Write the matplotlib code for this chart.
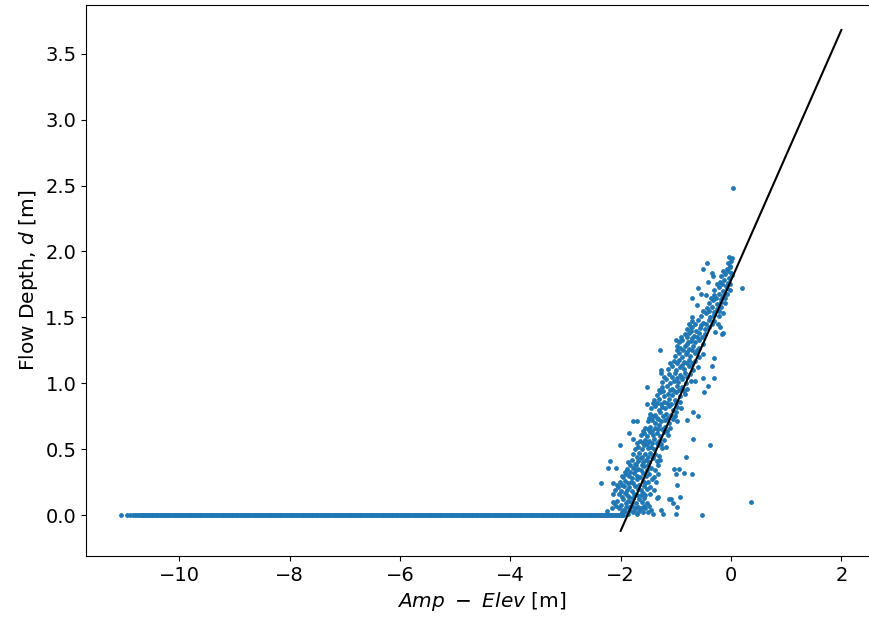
import matplotlib
matplotlib.use("Agg")
import matplotlib.pyplot as plt
import numpy as np

# points sitting on d = 0 (dry cells), x = Amp - Elev
zero_x = [
    -11.05, -10.94, -10.89, -10.84, -10.80, -10.76,
    -10.73, -10.70, -10.68, -10.65, -10.63, -10.60, -10.58, -10.55, -10.53, -10.50,
    -10.48, -10.45, -10.43, -10.40, -10.38, -10.35, -10.33, -10.30, -10.28, -10.25,
    -10.23, -10.20, -10.18, -10.15, -10.13, -10.10, -10.08, -10.05, -10.03, -10.00,
    -9.98, -9.95, -9.93, -9.90, -9.88, -9.85, -9.83, -9.80, -9.78, -9.75,
    -9.73, -9.70, -9.68, -9.65, -9.63, -9.60, -9.58, -9.55, -9.53, -9.50,
    -9.48, -9.45, -9.43, -9.40, -9.38, -9.35, -9.33, -9.30, -9.28, -9.25,
    -9.23, -9.20, -9.18, -9.15, -9.13, -9.10, -9.08, -9.05, -9.03, -9.00,
    -8.98, -8.95, -8.93, -8.90, -8.88, -8.85, -8.83, -8.80, -8.78, -8.75,
    -8.73, -8.70, -8.68, -8.65, -8.63, -8.60, -8.58, -8.55, -8.53, -8.50,
    -8.48, -8.45, -8.43, -8.40, -8.38, -8.35, -8.33, -8.30, -8.28, -8.25,
    -8.23, -8.20, -8.18, -8.15, -8.13, -8.10, -8.08, -8.05, -8.03, -8.00,
    -7.98, -7.95, -7.93, -7.90, -7.88, -7.85, -7.83, -7.80, -7.78, -7.75,
    -7.73, -7.70, -7.68, -7.65, -7.63, -7.60, -7.58, -7.55, -7.53, -7.50,
    -7.48, -7.45, -7.43, -7.40, -7.38, -7.35, -7.33, -7.30, -7.28, -7.25,
    -7.23, -7.20, -7.18, -7.15, -7.13, -7.10, -7.08, -7.05, -7.03, -7.00,
    -6.98, -6.95, -6.93, -6.90, -6.88, -6.85, -6.83, -6.80, -6.78, -6.75,
    -6.73, -6.70, -6.68, -6.65, -6.63, -6.60, -6.58, -6.55, -6.53, -6.50,
    -6.48, -6.45, -6.43, -6.40, -6.38, -6.35, -6.33, -6.30, -6.28, -6.25,
    -6.23, -6.20, -6.18, -6.15, -6.13, -6.10, -6.08, -6.05, -6.03, -6.00,
    -5.98, -5.95, -5.93, -5.90, -5.88, -5.85, -5.83, -5.80, -5.78, -5.75,
    -5.73, -5.70, -5.68, -5.65, -5.63, -5.60, -5.58, -5.55, -5.53, -5.50,
    -5.48, -5.45, -5.43, -5.40, -5.38, -5.35, -5.33, -5.30, -5.28, -5.25,
    -5.23, -5.20, -5.18, -5.15, -5.13, -5.10, -5.08, -5.05, -5.03, -5.00,
    -4.98, -4.95, -4.93, -4.90, -4.88, -4.85, -4.83, -4.80, -4.78, -4.75,
    -4.73, -4.70, -4.68, -4.65, -4.63, -4.60, -4.58, -4.55, -4.53, -4.50,
    -4.48, -4.45, -4.43, -4.40, -4.38, -4.35, -4.33, -4.30, -4.28, -4.25,
    -4.23, -4.20, -4.18, -4.15, -4.13, -4.10, -4.08, -4.05, -4.03, -4.00,
    -3.98, -3.95, -3.93, -3.90, -3.88, -3.85, -3.83, -3.80, -3.78, -3.75,
    -3.73, -3.70, -3.68, -3.65, -3.63, -3.60, -3.58, -3.55, -3.53, -3.50,
    -3.48, -3.45, -3.43, -3.40, -3.38, -3.35, -3.33, -3.30, -3.28, -3.25,
    -3.23, -3.20, -3.18, -3.15, -3.13, -3.10, -3.08, -3.05, -3.03, -3.00,
    -2.98, -2.95, -2.93, -2.90, -2.88, -2.85, -2.83, -2.80, -2.78, -2.75,
    -2.73, -2.70, -2.68, -2.65, -2.63, -2.60, -2.58, -2.55, -2.53, -2.50,
    -2.48, -2.45, -2.43, -2.40, -2.38, -2.35, -2.33, -2.30, -2.28, -2.25,
    -2.23, -2.20, -2.18, -2.15, -2.13, -2.10, -2.08, -2.05, -2.03, -2.00,
    -1.98, -1.95,
]
zero_y = [0.0] * len(zero_x)

# wet cells: (Amp - Elev, flow depth)
cloud = [
    # d ~ 0.0 - 0.45 (dense toe)
    (-1.98, 0.02), (-1.92, 0.03), (-1.87, 0.01), (-1.83, 0.04), (-1.78, 0.02), (-1.74, 0.05),
    (-1.70, 0.01), (-1.66, 0.03), (-1.60, 0.02), (-1.55, 0.05), (-1.50, 0.02), (-1.45, 0.04),
    (-2.03, 0.05), (-1.90, 0.06), (-1.80, 0.07), (-1.68, 0.06), (-2.25, 0.03), (-2.15, 0.05),
    (-1.95, 0.04), (-1.85, 0.06), (-1.76, 0.03), (-1.63, 0.05), (-1.58, 0.07), (-1.48, 0.07),
    (-2.08, 0.07),
    (-2.12, 0.09), (-2.06, 0.11), (-2.00, 0.08), (-1.95, 0.12), (-1.91, 0.09), (-1.86, 0.11),
    (-1.81, 0.10), (-1.77, 0.13), (-1.72, 0.09), (-1.67, 0.12), (-1.62, 0.10), (-1.57, 0.13),
    (-1.52, 0.09), (-1.98, 0.14), (-1.88, 0.15), (-1.75, 0.16), (-1.64, 0.15),
    (-2.03, 0.16), (-1.93, 0.17), (-1.85, 0.14), (-1.70, 0.15), (-1.60, 0.17), (-1.55, 0.15),
    (-1.47, 0.16),
    (-2.10, 0.19), (-2.04, 0.21), (-1.99, 0.18), (-1.94, 0.22), (-1.89, 0.19), (-1.84, 0.21),
    (-1.79, 0.18), (-1.74, 0.22), (-1.69, 0.20), (-1.63, 0.19), (-1.58, 0.22), (-1.52, 0.20),
    (-1.46, 0.21), (-1.40, 0.19), (-2.02, 0.25), (-1.92, 0.26), (-1.82, 0.25), (-1.71, 0.27),
    (-1.60, 0.26), (-1.50, 0.25),
    (-2.07, 0.23), (-1.97, 0.23), (-1.87, 0.24), (-1.77, 0.24), (-1.66, 0.23), (-1.55, 0.24),
    (-1.44, 0.27), (-1.36, 0.25),
    (-1.96, 0.29), (-1.90, 0.31), (-1.85, 0.30), (-1.80, 0.28), (-1.75, 0.32), (-1.70, 0.30),
    (-1.65, 0.29), (-1.60, 0.32), (-1.54, 0.30), (-1.48, 0.31), (-1.40, 0.29), (-1.33, 0.31),
    (-1.88, 0.35), (-1.78, 0.36), (-1.68, 0.35), (-1.58, 0.37), (-1.45, 0.36),
    (-1.93, 0.33), (-1.83, 0.33), (-1.73, 0.34), (-1.63, 0.34), (-1.52, 0.34), (-1.38, 0.34),
    (-1.83, 0.38), (-1.72, 0.38), (-1.62, 0.38), (-1.51, 0.38), (-1.32, 0.38),
    (-1.86, 0.40), (-1.80, 0.42), (-1.74, 0.39), (-1.69, 0.41), (-1.64, 0.43), (-1.59, 0.40),
    (-1.54, 0.42), (-1.48, 0.40), (-1.42, 0.43), (-1.35, 0.41), (-1.28, 0.42),
    (-1.77, 0.46), (-1.66, 0.47), (-1.56, 0.46), (-1.46, 0.47), (-1.38, 0.46),
    (-1.71, 0.44), (-1.61, 0.44), (-1.51, 0.44), (-1.41, 0.45), (-1.31, 0.45),
    # d ~ 0.5 - 1.45 (main band)
    (-1.74, 0.50), (-1.68, 0.52), (-1.62, 0.50), (-1.57, 0.53), (-1.51, 0.51), (-1.45, 0.52),
    (-1.39, 0.50), (-1.32, 0.53), (-1.25, 0.51), (-1.18, 0.52), (-1.65, 0.56), (-1.55, 0.57),
    (-1.48, 0.56), (-1.40, 0.58), (-1.30, 0.56), (-1.22, 0.57),
    (-1.71, 0.55), (-1.60, 0.55), (-1.53, 0.54), (-1.43, 0.55), (-1.35, 0.55), (-1.27, 0.54),
    (-1.64, 0.61), (-1.58, 0.62), (-1.52, 0.60), (-1.46, 0.63), (-1.41, 0.61), (-1.35, 0.62),
    (-1.29, 0.60), (-1.22, 0.63), (-1.14, 0.61), (-1.55, 0.66), (-1.47, 0.67), (-1.38, 0.66),
    (-1.30, 0.68), (-1.20, 0.67), (-1.10, 0.66),
    (-1.60, 0.64), (-1.50, 0.65), (-1.43, 0.64), (-1.33, 0.65), (-1.25, 0.65), (-1.16, 0.64),
    (-1.50, 0.71), (-1.44, 0.72), (-1.38, 0.70), (-1.32, 0.73), (-1.26, 0.71), (-1.20, 0.72),
    (-1.13, 0.70), (-1.05, 0.73), (-0.97, 0.71), (-1.46, 0.77), (-1.37, 0.76), (-1.28, 0.78),
    (-1.18, 0.77), (-1.08, 0.76), (-1.00, 0.78),
    (-1.48, 0.74), (-1.41, 0.75), (-1.34, 0.74), (-1.23, 0.75), (-1.15, 0.74), (-1.02, 0.75),
    (-1.45, 0.81), (-1.38, 0.83), (-1.31, 0.80), (-1.25, 0.82), (-1.19, 0.81), (-1.12, 0.83),
    (-1.05, 0.80), (-0.97, 0.82), (-0.90, 0.81), (-1.40, 0.87), (-1.30, 0.88), (-1.21, 0.86),
    (-1.12, 0.88), (-1.02, 0.87), (-0.93, 0.86),
    (-1.42, 0.85), (-1.34, 0.85), (-1.27, 0.84), (-1.16, 0.85), (-1.08, 0.84), (-0.99, 0.85),
    (-1.35, 0.91), (-1.28, 0.93), (-1.21, 0.90), (-1.14, 0.92), (-1.07, 0.91), (-1.00, 0.93),
    (-0.92, 0.90), (-0.84, 0.92), (-1.25, 0.97), (-1.16, 0.98), (-1.07, 0.96), (-0.98, 0.98),
    (-0.88, 0.97), (-0.80, 0.96),
    (-1.31, 0.95), (-1.24, 0.94), (-1.11, 0.95), (-1.03, 0.94), (-0.94, 0.95), (-0.85, 0.94),
    (-1.25, 1.01), (-1.17, 1.03), (-1.10, 1.00), (-1.03, 1.02), (-0.96, 1.01), (-0.89, 1.03),
    (-0.81, 1.00), (-0.73, 1.02), (-1.12, 1.07), (-1.02, 1.08), (-0.93, 1.06), (-0.84, 1.08),
    (-0.75, 1.07),
    (-1.21, 1.05), (-1.07, 1.05), (-0.98, 1.04), (-0.89, 1.05), (-0.79, 1.05),
    (-1.15, 1.11), (-1.07, 1.13), (-0.99, 1.10), (-0.92, 1.12), (-0.85, 1.11), (-0.77, 1.13),
    (-0.68, 1.10), (-0.60, 1.12), (-1.03, 1.17), (-0.94, 1.18), (-0.85, 1.16), (-0.76, 1.18),
    (-0.66, 1.17),
    (-1.10, 1.15), (-0.97, 1.15), (-0.89, 1.14), (-0.80, 1.15), (-0.71, 1.15),
    (-1.02, 1.21), (-0.95, 1.23), (-0.88, 1.20), (-0.81, 1.22), (-0.74, 1.21), (-0.66, 1.23),
    (-0.58, 1.20), (-0.50, 1.22), (-0.92, 1.27), (-0.84, 1.28), (-0.76, 1.26), (-0.68, 1.28),
    (-0.58, 1.27),
    (-0.98, 1.25), (-0.87, 1.25), (-0.79, 1.24), (-0.71, 1.25), (-0.62, 1.25),
    (-0.95, 1.31), (-0.88, 1.33), (-0.80, 1.30), (-0.73, 1.32), (-0.66, 1.31), (-0.58, 1.33),
    (-0.50, 1.30), (-0.84, 1.37), (-0.76, 1.38), (-0.67, 1.36), (-0.58, 1.38), (-0.48, 1.37),
    (-0.91, 1.35), (-0.80, 1.35), (-0.70, 1.34), (-0.62, 1.35), (-0.53, 1.35),
    (-0.80, 1.41), (-0.72, 1.43), (-0.64, 1.40), (-0.56, 1.42), (-0.48, 1.41), (-0.40, 1.43),
    (-0.70, 1.47), (-0.60, 1.48), (-0.50, 1.46), (-0.40, 1.48), (-0.30, 1.47),
    (-0.76, 1.45), (-0.66, 1.45), (-0.55, 1.44), (-0.45, 1.45), (-0.35, 1.45),
    # d ~ 1.5 - 2.0 (upper tip)
    (-0.55, 1.51), (-0.46, 1.53), (-0.38, 1.50), (-0.30, 1.52), (-0.22, 1.51), (-0.14, 1.53),
    (-0.44, 1.57), (-0.35, 1.58), (-0.26, 1.56), (-0.18, 1.58),
    (-0.50, 1.55), (-0.40, 1.55), (-0.31, 1.54), (-0.22, 1.55),
    (-0.40, 1.61), (-0.32, 1.63), (-0.25, 1.60), (-0.18, 1.62), (-0.10, 1.61),
    (-0.30, 1.67), (-0.22, 1.68), (-0.14, 1.66), (-0.07, 1.68),
    (-0.36, 1.65), (-0.27, 1.65), (-0.19, 1.64), (-0.11, 1.65),
    (-0.30, 1.71), (-0.22, 1.73), (-0.15, 1.70), (-0.08, 1.72), (-0.02, 1.71),
    (-0.20, 1.77), (-0.12, 1.78), (-0.05, 1.76),
    (-0.26, 1.75), (-0.17, 1.75), (-0.09, 1.74), (-0.02, 1.75),
    (-0.18, 1.81), (-0.10, 1.83), (-0.04, 1.80), (0.01, 1.82), (-0.08, 1.87), (-0.02, 1.88),
    (-0.14, 1.85), (-0.05, 1.85), (0.00, 1.84),
    (-0.06, 1.91), (0.00, 1.93), (-0.03, 1.96), (0.02, 1.95), (-0.01, 1.89),
    # scattered points off the band
    (-1.29, 1.25), (-0.30, 1.19), (-0.35, 1.13), (-0.31, 1.04), (-0.50, 1.04), (-0.41, 0.98),
    (-0.65, 1.02), (-0.49, 0.93), (-1.53, 0.97), (-1.53, 0.84), (-1.27, 1.08), (-1.26, 1.10),
    (-0.68, 0.78), (-0.59, 0.75), (-0.80, 0.72), (-1.77, 0.71), (-1.70, 0.71), (-1.84, 0.62),
    (-1.77, 0.58), (-2.01, 0.53), (-0.68, 0.58), (-0.38, 0.53), (-0.82, 0.44), (-2.20, 0.41),
    (-2.23, 0.36), (-2.08, 0.36), (-1.03, 0.35), (-0.95, 0.35), (-1.00, 0.31), (-0.85, 0.32),
    (-0.71, 0.31), (-0.98, 0.23), (-2.36, 0.24), (-2.13, 0.24), (-1.98, 0.30), (-1.09, 0.12),
    (-1.13, 0.12), (-0.92, 0.14), (-1.05, 0.09), (-0.98, 0.06), (-1.27, 0.04), (-1.23, 0.01),
    (-1.00, 0.01), (-1.41, 0.01), (-0.52, 0.00), (0.36, 0.10), (-2.14, 0.10), (-2.13, 0.16),
    (-1.35, 0.13), (-1.32, 0.14), (-0.17, 1.37),
    (0.04, 2.48), (0.20, 1.72), (-0.43, 1.91), (-0.51, 1.87), (-0.34, 1.84), (-0.32, 1.81),
    (-0.42, 1.77), (-0.60, 1.72), (-0.54, 1.68), (-0.71, 1.65), (-0.62, 1.59), (-0.45, 1.67),
    (-0.71, 1.50), (-1.00, 1.33), (-0.92, 1.32), (-0.98, 1.28), (-0.78, 1.31), (-0.72, 1.40),
    (-0.71, 1.43), (-0.14, 1.38), (-0.29, 1.39), (-0.24, 1.45), (-0.20, 1.43),
]

# linear fit drawn over the scatter
fit_x = [-2.0, 2.0]
fit_y = [-0.12, 3.68]

cloud = np.array(cloud)

fig = plt.figure(figsize=(8.70, 6.17), dpi=100)
ax = fig.add_axes([86 / 870, 61.1 / 617, 791.2 / 870, 550.9 / 617])

# default edge (edgecolor = face, 1 pt) kept so dots read as in the original
ax.scatter(zero_x, zero_y, s=6, color="C0")
ax.scatter(cloud[:, 0], cloud[:, 1], s=6, color="C0")
ax.plot(fit_x, fit_y, color="black", lw=1.5)

ax.set_xlim(-11.69, 2.65)
ax.set_ylim(-0.31, 3.87)
ax.set_xticks([-10, -8, -6, -4, -2, 0, 2])
ax.set_yticks([0.0, 0.5, 1.0, 1.5, 2.0, 2.5, 3.0, 3.5])
ax.tick_params(labelsize=14)
ax.set_xlabel(r"$Amp\ -\ Elev$ [m]", fontsize=14.5)
ax.set_ylabel(r"Flow Depth, $d$ [m]", fontsize=14.5)

fig.savefig("out.png", dpi=100)
